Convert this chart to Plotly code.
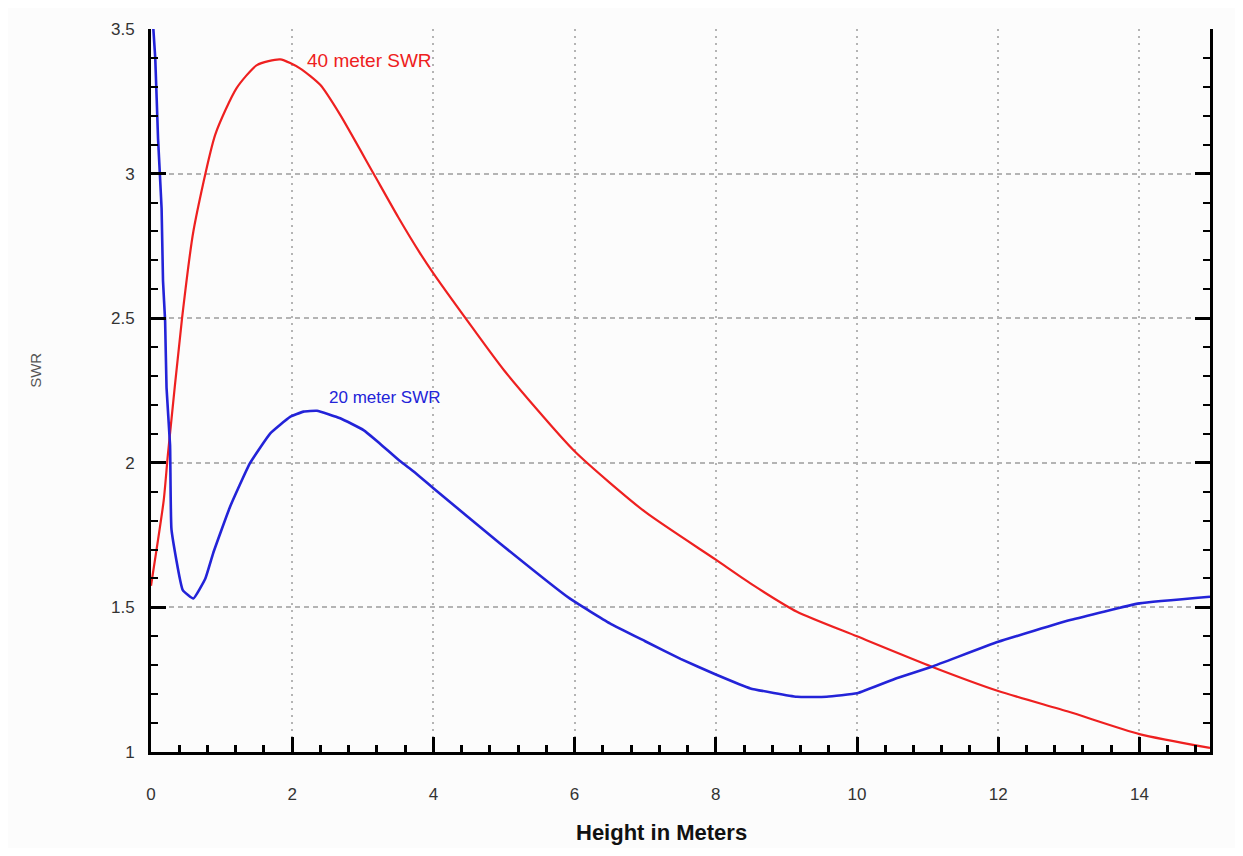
import plotly.graph_objects as go

# ---- data ----
height_40m = [0.0, 0.18, 0.24, 0.44, 0.60, 0.91, 1.21, 1.50, 1.83, 2.11, 2.4, 2.68, 3.15, 3.5, 3.81,
              4.0, 4.47, 5.0, 6.0, 7.0, 8.0, 8.49, 9.15, 10.0, 11.06, 12.0, 13.0, 14.0, 15.0]
swr_40m = [1.575, 1.87, 2.03, 2.5, 2.80, 3.135, 3.295, 3.375, 3.395, 3.364, 3.306, 3.203, 3.001, 2.85, 2.725,
           2.655, 2.495, 2.32, 2.04, 1.83, 1.665, 1.583, 1.485, 1.40, 1.295, 1.211, 1.139, 1.062, 1.014]

height_20m = [0.02, 0.06, 0.10, 0.15, 0.17, 0.20, 0.22, 0.27, 0.29, 0.45, 0.60, 0.77, 0.88,
              1.12, 1.40, 1.69, 1.97, 2.16, 2.35, 2.68, 3.01, 3.24, 3.53, 3.72, 4.0, 4.94, 5.93,
              6.5, 7.0, 7.5, 8.0, 8.49, 9.15, 9.57, 10.0, 10.56, 11.06, 12.0, 13.02, 14.0, 15.0]
swr_20m = [3.55, 3.40, 3.12, 2.88, 2.63, 2.49, 2.26, 2.06, 1.77, 1.56, 1.531, 1.60, 1.687,
           1.848, 1.998, 2.102, 2.159, 2.177, 2.18, 2.154, 2.113, 2.067, 2.005, 1.97, 1.912, 1.722, 1.531,
           1.445, 1.383, 1.322, 1.268, 1.22, 1.191, 1.191, 1.203, 1.255, 1.295, 1.381, 1.456, 1.514, 1.537]

x_ticks = [0, 2, 4, 6, 8, 10, 12, 14]
y_ticks = [1, 1.5, 2, 2.5, 3, 3.5]

RED = "#ee2020"
BLUE = "#2323d8"
FONT = "Liberation Sans, Arial, sans-serif"

fig = go.Figure()
fig.add_trace(go.Scatter(x=height_40m, y=swr_40m, mode="lines",
                         line=dict(color=RED, width=2.2, shape="spline", smoothing=0.6),
                         name="40 meter SWR", showlegend=False))
fig.add_trace(go.Scatter(x=height_20m, y=swr_20m, mode="lines",
                         line=dict(color=BLUE, width=2.6, shape="spline", smoothing=0.35),
                         name="20 meter SWR", showlegend=False))

fig.update_layout(
    width=1227, height=840,
    margin=dict(l=143, r=25, t=21, b=96),
    paper_bgcolor="#fcfcfc", plot_bgcolor="#fcfcfc",
    font=dict(family=FONT, color="#333333", size=16),
)

fig.update_xaxes(
    range=[0, 15], tickvals=x_ticks, ticks="inside", ticklen=15, tickwidth=2.5, tickcolor="black",
    showline=True, linecolor="black", linewidth=3, mirror=False,
    showgrid=True, gridcolor="#b4b4b4", gridwidth=2, griddash="2px,5px",
    zeroline=False, ticklabelstandoff=25,
    tickfont=dict(size=17, color="#333333"),
    minor=dict(dtick=0.4, tick0=0, ticks="inside", ticklen=7, tickwidth=2.5, tickcolor="black", showgrid=False),
)
fig.update_yaxes(
    range=[1, 3.5], tickvals=y_ticks, ticks="inside", ticklen=15, tickwidth=2.5, tickcolor="black",
    showline=True, linecolor="black", linewidth=3, mirror="allticks",
    showgrid=True, gridcolor="#b4b4b4", gridwidth=1.5, griddash="5px,4px",
    zeroline=False, ticklabelstandoff=10,
    tickfont=dict(size=17, color="#333333"),
    minor=dict(dtick=0.1, tick0=1, ticks="inside", ticklen=7, tickwidth=2, tickcolor="black", showgrid=False),
)

fig.add_annotation(x=2.18, y=3.39, xref="x", yref="y", text="40 meter SWR", showarrow=False,
                   xanchor="left", yanchor="middle", font=dict(size=19, color=RED, family=FONT))
fig.add_annotation(x=2.49, y=2.227, xref="x", yref="y", text="20 meter SWR", showarrow=False,
                   xanchor="left", yanchor="middle", font=dict(size=17, color=BLUE, family=FONT))

fig.add_annotation(x=0.4816, y=-0.111, xref="paper", yref="paper", text="<b>Height in Meters</b>",
                   showarrow=False, xanchor="center", yanchor="middle",
                   font=dict(size=22, color="#111111", family=FONT))
fig.add_annotation(x=-0.109, y=0.528, xref="paper", yref="paper", text="SWR", textangle=-90,
                   showarrow=False, xanchor="center", yanchor="middle",
                   font=dict(size=15, color="#555555", family=FONT))

fig.write_html("out.html")
